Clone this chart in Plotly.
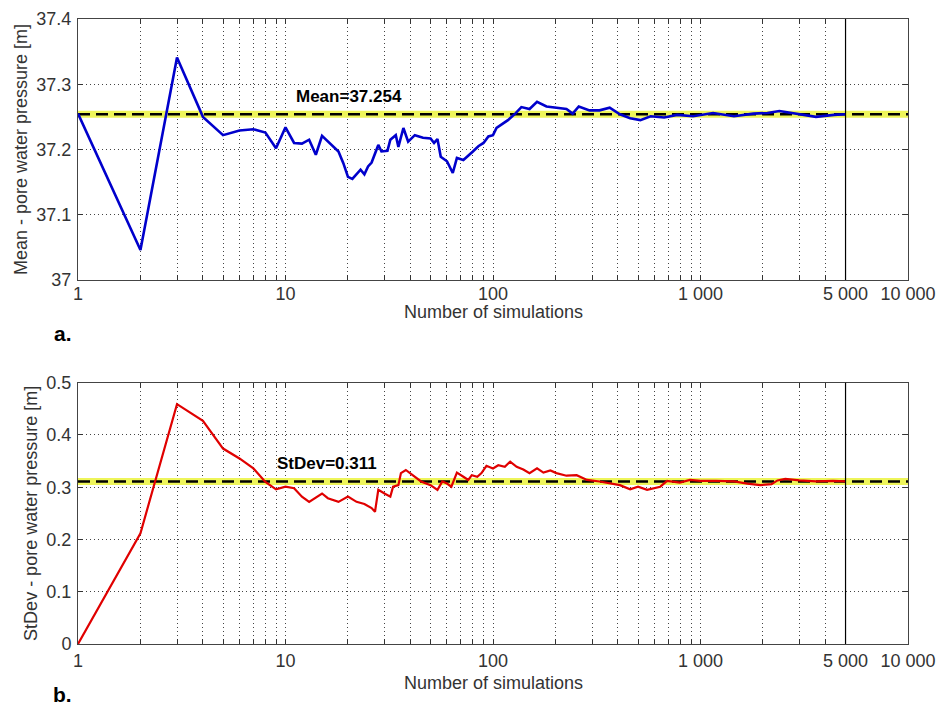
import plotly.graph_objects as go

# ---------------- data ----------------
mean_n = [1, 2, 3, 4, 5, 6, 7, 8, 9, 10, 11, 12, 13, 14, 15, 17, 18, 19, 20, 21, 23, 24, 25, 26, 28, 29,
          31, 32, 34, 35, 37, 39, 42, 46, 50, 52, 54, 56, 60, 64, 67, 72, 76, 80, 85, 90, 95, 100,
          104, 110, 118, 128, 137, 150, 163, 181, 202, 226, 242, 259, 292, 326, 365, 409, 458, 513,
          575, 668, 772, 921, 1150, 1450, 1800, 2100, 2400, 3000, 3600, 4400, 5000]
mean_v = [37.255, 37.046, 37.341, 37.250, 37.222, 37.229, 37.231, 37.226, 37.202, 37.234, 37.210,
          37.209, 37.215, 37.192, 37.221, 37.204, 37.197, 37.179, 37.158, 37.155, 37.169, 37.162,
          37.174, 37.180, 37.207, 37.197, 37.198, 37.215, 37.222, 37.204, 37.233, 37.212, 37.222,
          37.218, 37.217, 37.210, 37.216, 37.189, 37.182, 37.164, 37.187, 37.184, 37.190, 37.197,
          37.205, 37.210, 37.220, 37.222, 37.233, 37.238, 37.245, 37.255, 37.265, 37.262, 37.273,
          37.266, 37.264, 37.262, 37.255, 37.266, 37.260, 37.260, 37.264, 37.254, 37.248, 37.245,
          37.251, 37.249, 37.253, 37.251, 37.256, 37.251, 37.255, 37.256, 37.259, 37.254, 37.250,
          37.253, 37.254]

std_n = [1, 2, 3, 4, 5, 6, 7, 8, 9, 10, 11, 12, 13, 15, 16, 18, 20, 22, 24, 26, 27, 28, 30, 32, 33,
         35, 36, 38, 41, 45, 50, 54, 57, 60, 63, 67, 72, 76, 79, 84, 88, 93, 100, 106, 114, 121, 130,
         140, 150, 163, 175, 189, 202, 226, 253, 284, 326, 365, 409, 458, 500, 553, 593, 640, 690,
         795, 890, 1000, 1190, 1450, 1680, 1940, 2200, 2350, 2560, 3000, 3600, 4350, 5000]
std_v = [0.0, 0.212, 0.459, 0.427, 0.374, 0.355, 0.336, 0.310, 0.296, 0.301, 0.298, 0.282, 0.272,
         0.288, 0.279, 0.272, 0.282, 0.272, 0.268, 0.260, 0.253, 0.295, 0.288, 0.282, 0.301, 0.304,
         0.327, 0.333, 0.323, 0.311, 0.304, 0.295, 0.311, 0.307, 0.301, 0.328, 0.320, 0.314, 0.323,
         0.320, 0.327, 0.341, 0.336, 0.342, 0.339, 0.349, 0.339, 0.334, 0.327, 0.336, 0.328, 0.332,
         0.327, 0.322, 0.323, 0.314, 0.311, 0.308, 0.304, 0.296, 0.301, 0.295, 0.298, 0.301, 0.312,
         0.309, 0.314, 0.312, 0.312, 0.311, 0.307, 0.304, 0.306, 0.313, 0.316, 0.313, 0.311, 0.312,
         0.311]

mean_ref = 37.254
std_ref = 0.311
x_span = [1, 10000]

x_tickvals = [1, 2, 3, 4, 5, 6, 7, 8, 9, 10, 20, 30, 40, 50, 60, 70, 80, 90,
              100, 200, 300, 400, 500, 600, 700, 800, 900, 1000, 2000, 3000, 4000, 5000, 10000]
x_label_map = {1: "1", 10: "10", 100: "100", 1000: "1 000", 5000: "5 000", 10000: "10 000"}
x_ticktext = [x_label_map.get(v, "") for v in x_tickvals]

y1_ticks = [37.0, 37.1, 37.2, 37.3, 37.4]
y1_text = ["37", "37.1", "37.2", "37.3", "37.4"]
y2_ticks = [0.0, 0.1, 0.2, 0.3, 0.4, 0.5]
y2_text = ["0", "0.1", "0.2", "0.3", "0.4", "0.5"]

# ---------------- figure ----------------
FONT = "Liberation Sans, Arial, sans-serif"
W, H = 941, 708
x0, x1 = 78 / W, 908 / W
top_dom = [1 - 280 / H, 1 - 19 / H]
bot_dom = [1 - 644 / H, 1 - 382.7 / H]

fig = go.Figure()

band = dict(color="#eef55a", width=7)
dash = dict(color="black", width=2.5, dash="12px,6px")

# top panel
fig.add_trace(go.Scatter(x=x_span, y=[mean_ref] * 2, mode="lines", line=band, xaxis="x", yaxis="y",
                         hoverinfo="skip"))
fig.add_trace(go.Scatter(x=x_span, y=[mean_ref] * 2, mode="lines", line=dash, xaxis="x", yaxis="y",
                         hoverinfo="skip"))
fig.add_trace(go.Scatter(x=mean_n, y=mean_v, mode="lines", line=dict(color="#0000cc", width=2.6),
                         xaxis="x", yaxis="y"))

# bottom panel
fig.add_trace(go.Scatter(x=x_span, y=[std_ref] * 2, mode="lines", line=band, xaxis="x2", yaxis="y2",
                         hoverinfo="skip"))
fig.add_trace(go.Scatter(x=x_span, y=[std_ref] * 2, mode="lines", line=dash, xaxis="x2", yaxis="y2",
                         hoverinfo="skip"))
fig.add_trace(go.Scatter(x=std_n, y=std_v, mode="lines", line=dict(color="#e00000", width=2.2),
                         xaxis="x2", yaxis="y2"))

xcommon = dict(type="log", range=[0, 4], tickmode="array", tickvals=x_tickvals, ticktext=x_ticktext,
               showgrid=True, gridcolor="#444", griddash="1px,3px", gridwidth=1,
               ticks="inside", ticklen=5, tickcolor="#333", mirror="allticks",
               showline=True, linecolor="#444", linewidth=1, zeroline=False, automargin=False,
               tickfont=dict(family=FONT, size=18, color="#333"))
ycommon = dict(showgrid=True, gridcolor="#444", griddash="1px,3px", gridwidth=1,
               ticks="inside", ticklen=5, tickcolor="#333", mirror="allticks",
               showline=True, linecolor="#444", linewidth=1, zeroline=False, automargin=False,
               tickfont=dict(family=FONT, size=18, color="#333"), ticklabelstandoff=2)

fig.update_layout(
    width=W, height=H, margin=dict(l=0, r=0, t=0, b=0),
    paper_bgcolor="white", plot_bgcolor="white", showlegend=False,
    xaxis=dict(domain=[x0, x1], anchor="y", ticklabelstandoff=-3, **xcommon),
    yaxis=dict(domain=top_dom, anchor="x", range=[37.0, 37.4], tickvals=y1_ticks, ticktext=y1_text,
               title=dict(text="Mean - pore water pressure [m]",
                          font=dict(family=FONT, size=18, color="#333"), standoff=4),
               **ycommon),
    xaxis2=dict(domain=[x0, x1], anchor="y2", **xcommon),
    yaxis2=dict(domain=bot_dom, anchor="x2", range=[0, 0.5], tickvals=y2_ticks, ticktext=y2_text,
                title=dict(text="StDev - pore water pressure [m]",
                           font=dict(family=FONT, size=18, color="#333"), standoff=4),
                **ycommon),
)

# solid vertical line at 5000 on both panels
for xr, yr in (("x", "y"), ("x2", "y2")):
    fig.add_shape(type="line", xref=xr, yref=f"{yr} domain", x0=5000, x1=5000, y0=0, y1=1,
                  line=dict(color="black", width=1.2))

# x-axis titles
xmid = (x0 + x1) / 2
for ypx in (312, 683):
    fig.add_annotation(x=xmid, y=1 - ypx / H, xref="paper", yref="paper", text="Number of simulations",
                       showarrow=False, xanchor="center", yanchor="middle",
                       font=dict(family=FONT, size=18, color="#333"))

fig.add_annotation(x=1.306, y=37.281, xref="x", yref="y", text="<b>Mean=37.254</b>", showarrow=False,
                   xanchor="center", yanchor="middle", font=dict(family=FONT, size=17, color="black"))
fig.add_annotation(x=1.202, y=0.346, xref="x2", yref="y2", text="<b>StDev=0.311</b>", showarrow=False,
                   xanchor="center", yanchor="middle", font=dict(family=FONT, size=17, color="black"))
fig.add_annotation(x=63 / W, y=1 - 333 / H, xref="paper", yref="paper", text="<b>a.</b>",
                   showarrow=False, xanchor="center", yanchor="middle",
                   font=dict(family=FONT, size=21, color="black"))
fig.add_annotation(x=63 / W, y=1 - 694 / H, xref="paper", yref="paper", text="<b>b.</b>",
                   showarrow=False, xanchor="center", yanchor="middle",
                   font=dict(family=FONT, size=21, color="black"))

fig.write_html("out.html")
